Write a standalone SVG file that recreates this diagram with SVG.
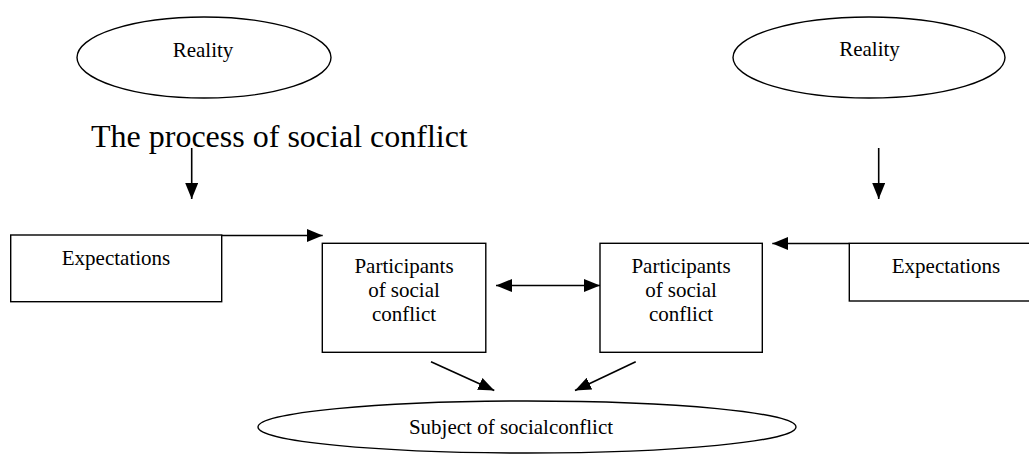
<svg xmlns="http://www.w3.org/2000/svg" width="1029" height="454" viewBox="0 0 1029 454">
<style>
.shape{fill:#fff;stroke:#000;stroke-width:1.4}
.line{fill:none;stroke:#000;stroke-width:1.6}
text{font-family:"Liberation Serif","Times New Roman",serif;fill:#000}
.lbl{font-size:21px;text-anchor:middle}
.title{font-size:32px}
</style>
<defs>
<marker id="ah" viewBox="0 0 16 13" refX="16" refY="6.5" markerWidth="16" markerHeight="13" markerUnits="userSpaceOnUse" orient="auto-start-reverse">
<path d="M0,0 L16,6.5 L0,13 Z" fill="#000"/>
</marker>
</defs>
<rect width="1029" height="454" fill="#fff"/>
<g id="reality-left">
<ellipse class="shape" cx="204" cy="57.5" rx="127" ry="40.5"/>
<text class="lbl" x="203" y="57">Reality</text>
</g>
<g id="reality-right">
<ellipse class="shape" cx="869" cy="57.5" rx="136" ry="40.5"/>
<text class="lbl" x="869.5" y="56">Reality</text>
</g>
<g id="title">
<text class="title" x="91" y="147">The process of social conflict</text>
</g>
<g id="expectations-left">
<rect class="shape" x="10.7" y="235" width="211" height="66.7"/>
<text class="lbl" x="116" y="265">Expectations</text>
</g>
<g id="expectations-right">
<rect class="shape" x="849.3" y="243.3" width="194" height="57.7"/>
<text class="lbl" x="946" y="273">Expectations</text>
</g>
<g id="participants-left">
<rect class="shape" x="322.3" y="243.3" width="163.5" height="109"/>
<text class="lbl" x="404" y="272.7">Participants</text>
<text class="lbl" x="404" y="296.7">of social</text>
<text class="lbl" x="404" y="320.7">conflict</text>
</g>
<g id="participants-right">
<rect class="shape" x="600" y="243.3" width="162.3" height="109"/>
<text class="lbl" x="681" y="272.7">Participants</text>
<text class="lbl" x="681" y="296.7">of social</text>
<text class="lbl" x="681" y="320.7">conflict</text>
</g>
<g id="subject">
<ellipse class="shape" cx="527" cy="427" rx="269" ry="26"/>
<text class="lbl" x="511" y="434">Subject of socialconflict</text>
</g>
<g id="connectors">
<line class="line" x1="191.7" y1="148" x2="191.7" y2="199" marker-end="url(#ah)"/>
<line class="line" x1="878.7" y1="148" x2="878.7" y2="199" marker-end="url(#ah)"/>
<line class="line" x1="221.7" y1="235.5" x2="322.7" y2="235.5" marker-end="url(#ah)"/>
<line class="line" x1="849.3" y1="243.5" x2="772.3" y2="243.5" marker-end="url(#ah)"/>
<line class="line" x1="496" y1="285.5" x2="600" y2="285.5" marker-start="url(#ah)" marker-end="url(#ah)"/>
<line class="line" x1="431" y1="361.7" x2="494.3" y2="390.5" marker-end="url(#ah)"/>
<line class="line" x1="635.7" y1="361.7" x2="575" y2="390.5" marker-end="url(#ah)"/>
</g>
</svg>
